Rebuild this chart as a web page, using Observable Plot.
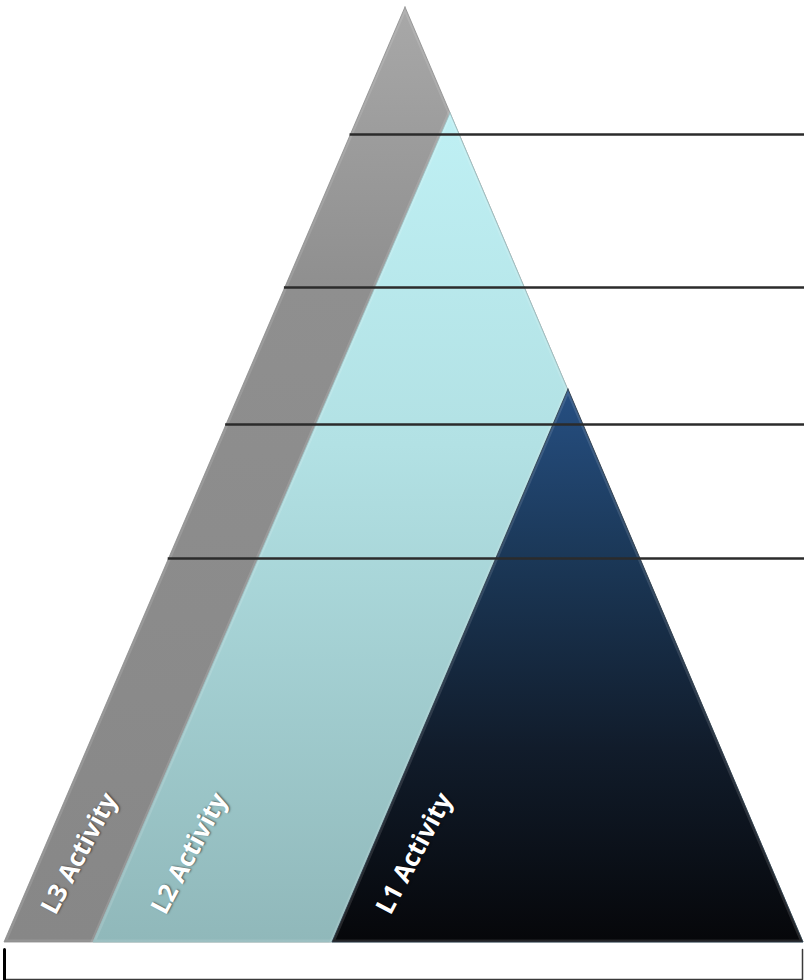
<!DOCTYPE html>
<html>
<head>
<meta charset="utf-8">
<script src="https://cdn.jsdelivr.net/npm/d3@7"></script>
<script src="https://cdn.jsdelivr.net/npm/@observablehq/plot@0.6"></script>
<style>
  html, body { margin: 0; padding: 0; background: #fff; }
  #chart svg { display: block; }
  #chart text { text-shadow: 1px 1px 2px rgba(0,0,0,0.5); }
</style>
</head>
<body>
<div id="chart"></div>
<script>
// Layers, drawn back to front
const layers   = ["L3 Activity", "L2 Activity", "L1 Activity"];
const apexX    = [405, 450, 568];
const apexY    = [7, 113, 389];
const baseLeft = [4, 93, 332];
const baseRight = [803, 803, 803];
const baseY = 942;
// Label centres (rotated text)
const labelX = [79, 189, 414];
const labelY = [853, 853, 853];
// Horizontal divider levels
const dividerY = [134, 287, 424, 558];
// Bracket under the pyramid
const bracketX = [4, 4, 802, 802];
const bracketY = [949, 979, 979, 949];

const gradIds = ["gL3", "gL2", "gL1"];
const edgeColors = ["#7a7a7a", "#8fb6b9", "#0d1a2b"];

// left edge of outer (L3) triangle at height y
const outerLeftAt = y => apexX[0] + (baseLeft[0] - apexX[0]) * (y - apexY[0]) / (baseY - apexY[0]);

const marks = [];
layers.forEach((name, i) => {
  const tri = [
    {y: apexY[i], x1: apexX[i], x2: apexX[i]},
    {y: baseY, x1: baseLeft[i], x2: baseRight[i]}
  ];
  marks.push(Plot.areaX(tri, {
    y: "y", x1: "x1", x2: "x2",
    fill: `url(#${gradIds[i]})`,
    stroke: edgeColors[i], strokeWidth: 1, strokeOpacity: 0.8,
    curve: "linear"
  }));
  // soft inner highlight
  marks.push(Plot.areaX(tri, {
    y: "y", x1: "x1", x2: "x2",
    fill: "none", stroke: "#ffffff", strokeOpacity: 0.12, strokeWidth: 5,
    curve: "linear"
  }));
});

const dividers = dividerY.map(y => ({y, x1: outerLeftAt(y) - 1, x2: 804}));
marks.push(Plot.ruleY(dividers, {y: "y", x1: "x1", x2: "x2", stroke: "#2b2b2b", strokeWidth: 2.5}));

const labels = layers.map((name, i) => ({name, x: labelX[i], y: labelY[i]}));
marks.push(Plot.text(labels, {
  x: "x", y: "y", text: "name", rotate: -62, textAnchor: "middle", lineAnchor: "middle",
  fill: "white", fontSize: 25.5, fontWeight: "bold", fontFamily: "'Open Sans', 'DejaVu Sans', sans-serif"
}));

const bracket = bracketX.map((x, i) => ({x, y: bracketY[i]}));
marks.push(Plot.line(bracket, {x: "x", y: "y", stroke: "#3a3a3a", strokeWidth: 1.5, curve: "linear"}));
marks.push(Plot.line(bracket.slice(0, 2), {x: "x", y: "y", stroke: "#000", strokeWidth: 3}));

const chart = Plot.plot({
  width: 804, height: 980,
  margin: 0,
  x: {domain: [0, 804], range: [0, 804], axis: null},
  y: {domain: [0, 980], range: [0, 980], axis: null},
  style: {background: "white", overflow: "visible"},
  marks
});

// gradient definitions
const defs = d3.select(chart).insert("defs", ":first-child");
const grads = {
  gL3: [["0%", "#a8a8a8"], ["30%", "#8f8f8f"], ["100%", "#878787"]],
  gL2: [["0%", "#bff0f4"], ["40%", "#b2e1e4"], ["100%", "#90b8ba"]],
  gL1: [["0%", "#264f82"], ["30%", "#1b3858"], ["65%", "#111c2b"], ["100%", "#06070a"]]
};
Object.entries(grads).forEach(([id, stops]) => {
  const g = defs.append("linearGradient").attr("id", id)
    .attr("x1", 0).attr("y1", 0).attr("x2", 0).attr("y2", 1);
  stops.forEach(([o, c]) => g.append("stop").attr("offset", o).attr("stop-color", c));
});

document.getElementById("chart").appendChild(chart);
</script>
</body>
</html>
